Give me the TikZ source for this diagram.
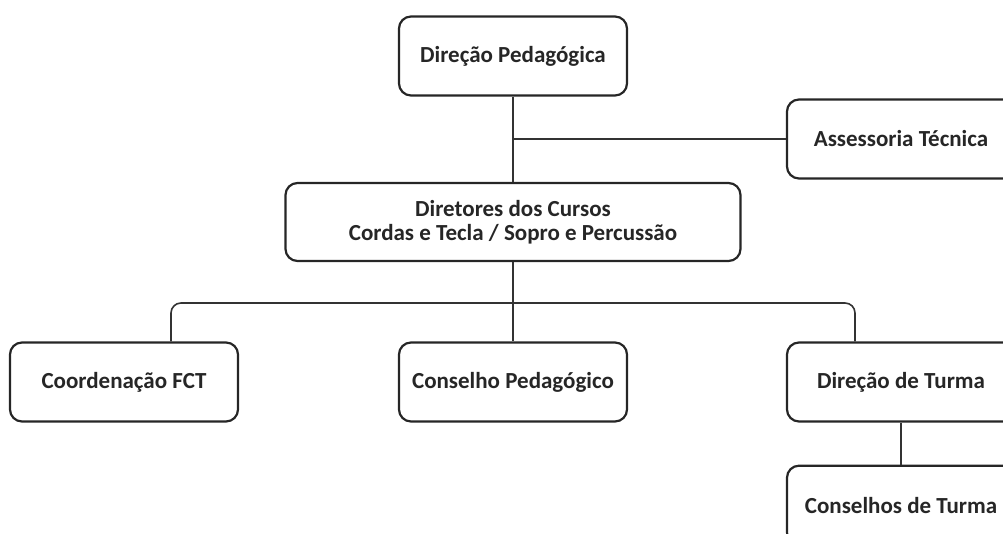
\documentclass[tikz,border=0pt]{standalone}
\usepackage{fontspec}
\setmainfont{Carlito}
\usepackage{tikz}
\usetikzlibrary{positioning, calc}
\tikzset{
    unit/.style={
        rectangle,
        rounded corners=12pt,
        line width=2.2pt,
        draw=black!85,
        fill=white,
        minimum width=228pt,
        minimum height=79pt,
        inner sep=0pt,
        align=center,
        font=\fontsize{23}{24}\selectfont\bfseries,
        text=black!85,
    },
    link/.style={
        line width=1.6pt,
        draw=black!80,
    },
}
\begin{document}
\begin{tikzpicture}[x=1pt,y=-1pt,node distance=40pt and 50pt]
      \useasboundingbox (0,0) rectangle (1003,534);
      \clip (0,0) rectangle (1003,534);

      \node [unit] (DirPed) at (513,56) {Direção Pedagógica};
      \node [unit] (Assessoria) at (901,139) {Assessoria Técnica};
      \node [unit, minimum width=455pt, minimum height=78pt] (Diretores) at (513,222) {Diretores dos Cursos\\Cordas e Tecla / Sopro e Percussão};
      \node [unit] (ConsPed) at (513,382) {Conselho Pedagógico};
      \node [unit] (CoordFCT) at (124,382) {Coordenação FCT};
      \node [unit] (DirTurma) at (901,382) {Direção de Turma};
      \node [unit] (ConsTurma) [below=42pt of DirTurma] {Conselhos de Turma};
      \coordinate (bus) at (513,303);

      \draw[link] (DirPed.south) -- (Diretores.north);
      \draw[link] (DirPed.south |- Assessoria.west) -- (Assessoria.west);
      \draw[link] (Diretores.south) -- (ConsPed.north);
      \draw[link, rounded corners=10pt] ([xshift=47pt]CoordFCT.north) |- (bus) -| ([xshift=-46pt]DirTurma.north);
      \draw[link] (DirTurma.south) -- (ConsTurma.north);
\end{tikzpicture}
\end{document}
